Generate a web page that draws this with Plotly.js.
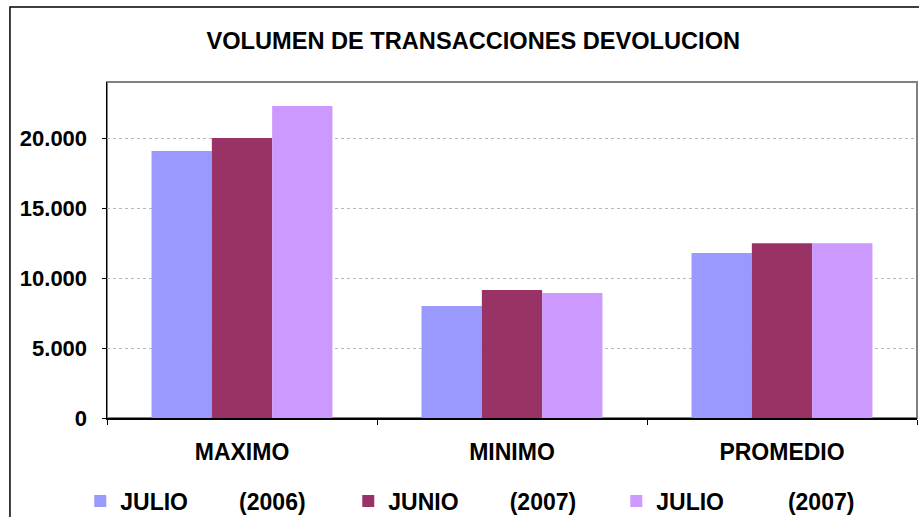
<!DOCTYPE html>
<html>
<head>
<meta charset="utf-8">
<script src="https://cdn.plot.ly/plotly-3.0.1.min.js"></script>
<style>html,body{margin:0;padding:0;background:#fff;}#chart{width:919px;height:517px;}</style>
</head>
<body>
<div id="chart"></div>
<script>
const categories = ['MAXIMO', 'MINIMO', 'PROMEDIO'];
const seriesNames = ['JULIO\u00a0\u00a0\u00a0\u00a0\u00a0\u00a0\u00a0\u00a0(2006)', 'JUNIO\u00a0\u00a0\u00a0\u00a0\u00a0\u00a0\u00a0\u00a0(2007)', 'JULIO\u00a0\u00a0\u00a0\u00a0\u00a0\u00a0\u00a0\u00a0\u00a0\u00a0(2007)'];
const julio2006 = [19070, 8000, 11790];
const junio2007 = [20000, 9140, 12480];
const julio2007 = [22290, 8930, 12480];
const colors = ['#9999FF', '#993366', '#CC99FF'];
const yTicks = [0, 5000, 10000, 15000, 20000];

const FONT = 'Liberation Sans, Arial, sans-serif';
const seriesValues = [julio2006, junio2007, julio2007];
const traces = seriesValues.map((vals, i) => ({
  type: 'bar',
  name: seriesNames[i],
  x: categories,
  y: vals,
  marker: {color: colors[i], line: {width: 0}},
  hoverinfo: 'x+y'
}));

const layout = {
  width: 919, height: 517,
  margin: {l: 107, r: 2, t: 82, b: 99, autoexpand: false},
  paper_bgcolor: '#ffffff',
  plot_bgcolor: '#ffffff',
  separators: ',.',
  barmode: 'group',
  bargap: 0.33,
  bargroupgap: 0,
  title: {
    text: 'VOLUMEN DE TRANSACCIONES DEVOLUCION',
    font: {family: FONT, size: 23.6, weight: 'bold', color: '#000'},
    x: 0.515, xref: 'container', xanchor: 'center',
    y: 0.921, yref: 'container', yanchor: 'middle'
  },
  xaxis: {
    type: 'category',
    range: [-0.5, 2.5],
    showline: true, linecolor: '#000', linewidth: 1.5,
    ticks: 'outside', tickson: 'boundaries', ticklen: 5, tickcolor: '#000', tickwidth: 1,
    tickfont: {family: FONT, size: 23, weight: 'bold', color: '#000'},
    ticklabelstandoff: 13,
    showgrid: false, zeroline: false
  },
  yaxis: {
    range: [0, 24000],
    tickvals: yTicks,
    tickformat: ',d',
    showline: true, linecolor: '#000', linewidth: 1.5,
    ticks: 'outside', ticklen: 4, tickcolor: '#000',
    tickfont: {family: FONT, size: 22, weight: 'bold', color: '#000'},
    ticklabelstandoff: 10,
    showgrid: true, gridcolor: '#b8b8b8', griddash: 'dot', gridwidth: 1,
    zeroline: false
  },
  showlegend: true,
  legend: {
    orientation: 'h',
    x: -0.033, xanchor: 'left',
    y: -0.247, yanchor: 'middle',
    font: {family: FONT, size: 23, weight: 'bold', color: '#000'},
    entrywidth: 223,
    bgcolor: 'rgba(0,0,0,0)'
  },
  shapes: [
    {type: 'rect', xref: 'paper', yref: 'paper', x0: 0, x1: 1, y0: 0, y1: 1,
     line: {color: '#808080', width: 2}, layer: 'below'},
    {type: 'rect', xref: 'paper', yref: 'paper', x0: -0.1198, x1: 1.1, y0: -0.6, y1: 1.2232,
     line: {color: '#000', width: 1.5}, layer: 'below'}
  ]
};

Plotly.newPlot('chart', traces, layout, {displayModeBar: false, staticPlot: true});
</script>
</body>
</html>
